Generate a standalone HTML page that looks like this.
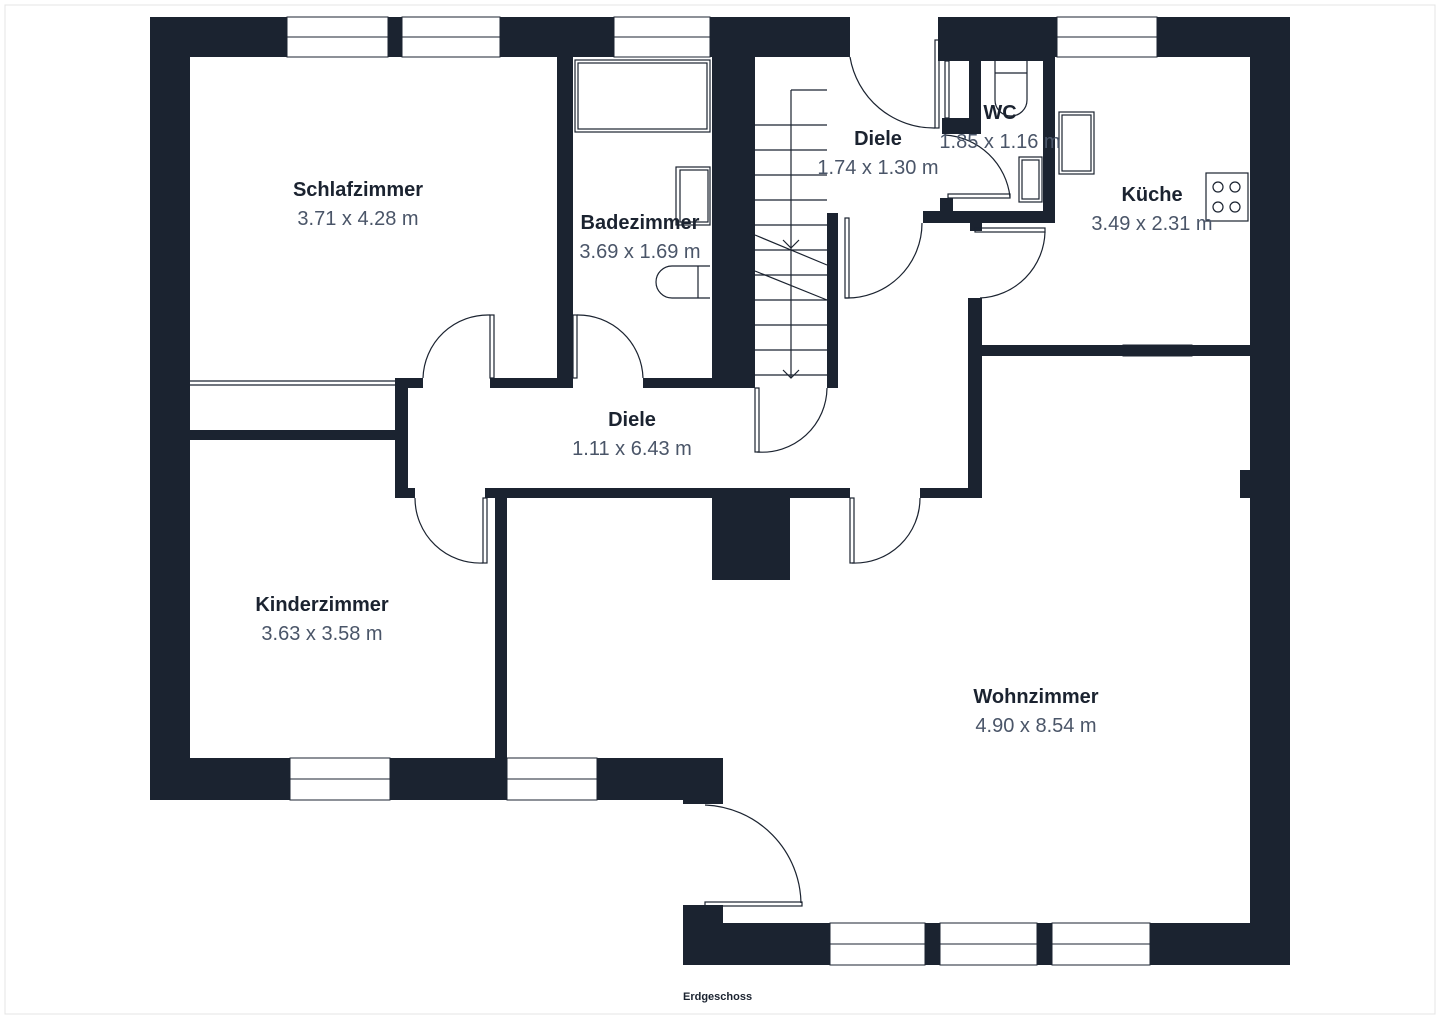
<!DOCTYPE html>
<html><head><meta charset="utf-8"><style>
html,body{margin:0;padding:0;background:#fff}
svg{display:block}
.w{fill:#1b2330}
.win{fill:#fff;stroke:#1b2330;stroke-width:1}
.t{font-family:"Liberation Sans",sans-serif;font-weight:bold;font-size:20px;fill:#1b2330;text-anchor:middle}
.d{font-family:"Liberation Sans",sans-serif;font-size:20px;fill:#4a5568;text-anchor:middle}
.l{fill:none;stroke:#1b2330;stroke-width:1.2}
</style></head><body>
<svg width="1440" height="1019" viewBox="0 0 1440 1019">
<rect x="5" y="5" width="1430" height="1009" fill="none" stroke="#e4e4e4"/>
<!-- outer walls -->
<rect class="w" x="150" y="17" width="700" height="40"/>
<rect class="w" x="150" y="17" width="40" height="783"/>
<rect class="w" x="150" y="758" width="573" height="42"/>
<rect class="w" x="683" y="758" width="40" height="46"/>
<rect class="w" x="938" y="17" width="352" height="40"/>
<rect class="w" x="1250" y="17" width="40" height="948"/>
<rect class="w" x="683" y="923" width="607" height="42"/>
<rect class="w" x="683" y="905" width="40" height="60"/>
<!-- windows -->
<g class="win">
<rect x="287" y="17" width="101" height="40"/><line x1="287" y1="37" x2="388" y2="37"/>
<rect x="402" y="17" width="98" height="40"/><line x1="402" y1="37" x2="500" y2="37"/>
<rect x="614" y="17" width="96" height="40"/><line x1="614" y1="37" x2="710" y2="37"/>
<rect x="1057" y="17" width="100" height="40"/><line x1="1057" y1="37" x2="1157" y2="37"/>
<rect x="290" y="758" width="100" height="42"/><line x1="290" y1="779" x2="390" y2="779"/>
<rect x="507" y="758" width="90" height="42"/><line x1="507" y1="779" x2="597" y2="779"/>
<rect x="830" y="923" width="95" height="42"/><line x1="830" y1="944" x2="925" y2="944"/>
<rect x="940" y="923" width="97" height="42"/><line x1="940" y1="944" x2="1037" y2="944"/>
<rect x="1052" y="923" width="98" height="42"/><line x1="1052" y1="944" x2="1150" y2="944"/>
<rect x="1123" y="345" width="69" height="11"/>
</g>
<!-- interior walls -->
<rect class="w" x="557" y="57" width="16" height="331"/>
<rect class="w" x="712" y="57" width="43" height="331"/>
<rect class="w" x="395" y="378" width="28" height="10"/>
<rect class="w" x="490" y="378" width="83" height="10"/>
<rect class="w" x="643" y="378" width="112" height="10"/>
<rect class="w" x="827" y="213" width="11" height="175"/>
<rect class="w" x="395" y="378" width="13" height="120"/>
<rect class="w" x="190" y="430" width="205" height="10"/>
<rect class="w" x="395" y="488" width="20" height="10"/>
<rect class="w" x="485" y="488" width="365" height="10"/>
<rect class="w" x="495" y="488" width="12" height="270"/>
<rect class="w" x="920" y="488" width="62" height="10"/>
<rect class="w" x="968" y="298" width="14" height="200"/>
<rect class="w" x="712" y="498" width="78" height="82"/>
<rect class="w" x="982" y="345" width="268" height="11"/>
<rect class="w" x="1240" y="470" width="10" height="28"/>
<!-- WC -->
<rect class="w" x="938" y="17" width="117" height="44"/>
<rect class="w" x="1043" y="57" width="12" height="166"/>
<rect class="w" x="923" y="211" width="132" height="12"/>
<rect class="w" x="940" y="198" width="13" height="15"/>
<rect class="w" x="969" y="57" width="12" height="73"/>
<rect class="w" x="942" y="118" width="39" height="16"/>
<rect class="w" x="970" y="223" width="12" height="8"/>
<!-- closet line -->
<line class="l" x1="190" y1="381" x2="395" y2="381"/><line class="l" x1="190" y1="385" x2="395" y2="385"/>
<!-- bath fixtures -->
<rect class="l" x="575" y="60" width="135" height="72"/><rect class="l" x="578" y="63" width="129" height="66"/>
<rect class="l" x="676" y="167" width="34" height="58"/><rect class="l" x="680" y="170" width="28" height="52"/>
<path class="l" d="M710,266 L672,266 A16,16 0 0 0 672,298 L710,298 M698,266 L698,298"/>
<!-- WC fixtures -->
<path class="l" d="M995,61 L995,100 A16,16 0 0 0 1027,100 L1027,61 M995,73 H1027"/>
<rect class="l" x="1019" y="157" width="23" height="45"/><rect class="l" x="1022" y="160" width="17" height="39"/>
<rect class="l" x="1059" y="112" width="35" height="62"/><rect class="l" x="1062" y="115" width="29" height="56"/>
<rect class="l" x="1206" y="173" width="42" height="48"/>
<circle class="l" cx="1218" cy="187" r="5"/><circle class="l" cx="1235" cy="187" r="5"/>
<circle class="l" cx="1218" cy="207" r="5"/><circle class="l" cx="1235" cy="207" r="5"/>
<!-- stairs -->
<g class="l">
<path d="M755,125 H827 M755,150 H827 M755,175 H827 M755,200 H827 M755,225 H827 M755,250 H827 M755,275 H827 M755,300 H827 M755,325 H827 M755,350 H827 M755,375 H827"/>
<path d="M791,90 H827 M791,90 V378 M755,235 L827,265 M755,271 L827,300"/>
<path d="M783,240 L791,248 L799,240 M783,370 L791,378 L799,370"/>
</g>
<!-- doors -->
<g class="l">
<path d="M850,57 A85,85 0 0 0 935,128"/><rect x="935" y="40" width="4" height="88"/>
<rect x="945" y="61" width="4" height="57"/>
<path d="M945,135 A70,70 0 0 1 1010,197"/><rect x="948" y="194" width="62" height="4"/>
<path d="M922,223 A75,75 0 0 1 845,298"/><rect x="845" y="218" width="4" height="80"/>
<path d="M1045,232 A68,68 0 0 1 980,298"/><rect x="975" y="228" width="70" height="4"/>
<path d="M423,378 A65,65 0 0 1 490,315"/><rect x="490" y="315" width="4" height="63"/>
<path d="M643,378 A65,65 0 0 0 577,315"/><rect x="573" y="315" width="4" height="63"/>
<path d="M827,388 A65,65 0 0 1 757,452"/><rect x="755" y="388" width="4" height="64"/>
<path d="M415,498 A65,65 0 0 0 483,563"/><rect x="483" y="498" width="4" height="65"/>
<path d="M920,498 A65,65 0 0 1 852,563"/><rect x="850" y="498" width="4" height="65"/>
<path d="M705,805 A100,100 0 0 1 801,903"/><rect x="705" y="902" width="97" height="4"/>
</g>
<!-- labels -->
<text class="t" x="358" y="196">Schlafzimmer</text><text class="d" x="358" y="225">3.71 x 4.28 m</text>
<text class="t" x="640" y="229">Badezimmer</text><text class="d" x="640" y="258">3.69 x 1.69 m</text>
<text class="t" x="878" y="145">Diele</text><text class="d" x="878" y="174">1.74 x 1.30 m</text>
<text class="t" x="1000" y="119">WC</text><text class="d" x="1000" y="148">1.85 x 1.16 m</text>
<text class="t" x="1152" y="201">Küche</text><text class="d" x="1152" y="230">3.49 x 2.31 m</text>
<text class="t" x="632" y="426">Diele</text><text class="d" x="632" y="455">1.11 x 6.43 m</text>
<text class="t" x="322" y="611">Kinderzimmer</text><text class="d" x="322" y="640">3.63 x 3.58 m</text>
<text class="t" x="1036" y="703">Wohnzimmer</text><text class="d" x="1036" y="732">4.90 x 8.54 m</text>
<text x="683" y="1000" style="font-family:'Liberation Sans',sans-serif;font-weight:bold;font-size:11px;fill:#1b2330">Erdgeschoss</text>
</svg>
</body></html>
